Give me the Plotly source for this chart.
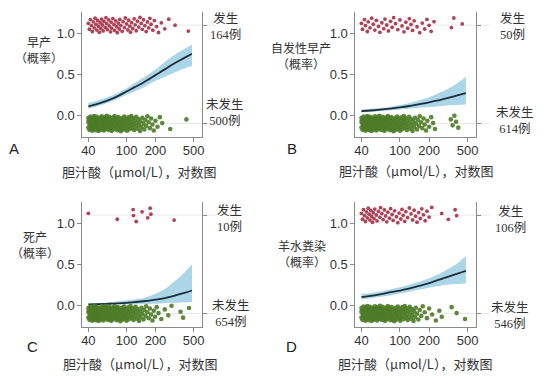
import plotly.graph_objects as go

W, H = 558, 382

# ---------------- data ----------------
CURVE_X = [40, 50, 60, 70, 80, 100, 120, 150, 200, 250, 300, 400, 480]

LINE_A = [0.11, 0.14, 0.17, 0.20, 0.23, 0.29, 0.34, 0.40, 0.49, 0.56, 0.62, 0.70, 0.75]
LOW_A = [0.08, 0.11, 0.14, 0.17, 0.20, 0.25, 0.29, 0.34, 0.42, 0.47, 0.51, 0.57, 0.60]
UP_A = [0.15, 0.18, 0.21, 0.24, 0.27, 0.33, 0.39, 0.46, 0.56, 0.65, 0.72, 0.81, 0.86]

LINE_B = [0.05, 0.058, 0.066, 0.074, 0.082, 0.097, 0.11, 0.13, 0.158, 0.183, 0.205, 0.245, 0.27]
LOW_B = [0.035, 0.042, 0.05, 0.055, 0.062, 0.072, 0.08, 0.09, 0.10, 0.11, 0.12, 0.125, 0.13]
UP_B = [0.07, 0.08, 0.09, 0.095, 0.105, 0.125, 0.145, 0.175, 0.22, 0.27, 0.31, 0.40, 0.47]

LINE_C = [0.01, 0.013, 0.016, 0.02, 0.023, 0.03, 0.038, 0.049, 0.069, 0.088, 0.11, 0.15, 0.18]
LOW_C = [0.004, 0.005, 0.006, 0.007, 0.008, 0.01, 0.012, 0.015, 0.02, 0.025, 0.03, 0.035, 0.04]
UP_C = [0.02, 0.025, 0.03, 0.04, 0.045, 0.06, 0.07, 0.09, 0.14, 0.20, 0.27, 0.40, 0.50]

LINE_D = [0.10, 0.115, 0.13, 0.145, 0.16, 0.18, 0.20, 0.23, 0.27, 0.31, 0.34, 0.39, 0.42]
LOW_D = [0.07, 0.085, 0.10, 0.11, 0.12, 0.145, 0.16, 0.185, 0.215, 0.235, 0.25, 0.26, 0.265]
UP_D = [0.14, 0.15, 0.165, 0.18, 0.195, 0.22, 0.245, 0.28, 0.33, 0.38, 0.43, 0.52, 0.60]

# bile acid values of cases with the outcome (red) / without (green)
RED_A = [40, 41, 42, 43, 44, 45, 46, 47, 48, 49, 50, 51, 52, 53, 54, 55, 56, 57, 58, 60, 61, 62,
         63, 65, 66, 68, 69, 70, 72, 74, 75, 77, 79, 80, 82, 84, 85, 87, 90, 92, 95, 97, 100, 103,
         105, 108, 110, 113, 116, 120, 123, 126, 130, 134, 138, 142, 146, 150, 155, 160, 165,
         170, 175, 180, 188, 195, 205, 215, 230, 250, 275, 320, 440]
GREEN_A = [40, 40, 40, 41, 41, 41, 42, 42, 42, 43, 43, 43, 44, 44, 44, 45, 45, 45, 46, 46, 46, 47,
           47, 47, 48, 48, 48, 49, 49, 50, 50, 50, 51, 51, 52, 52, 53, 53, 54, 54, 55, 55, 56, 56,
           57, 57, 58, 58, 59, 59, 60, 60, 61, 61, 62, 62, 63, 63, 64, 65, 65, 66, 66, 67, 68, 68,
           69, 70, 70, 71, 72, 72, 73, 74, 75, 75, 76, 77, 78, 79, 80, 80, 81, 82, 83, 84, 85, 86,
           87, 88, 89, 90, 91, 92, 93, 94, 95, 96, 98, 99, 100, 101, 102, 104, 105, 106, 108, 109,
           110, 112, 113, 115, 117, 118, 120, 122, 124, 126, 128, 130, 133, 135, 138, 140, 143,
           146, 150, 153, 157, 160, 165, 170, 175, 180, 186, 192, 200, 210, 222, 235, 285, 420]

RED_B = [40, 41, 43, 44, 46, 47, 49, 51, 53, 55, 57, 60, 62, 65, 68, 70, 73, 76, 80, 83, 86, 90,
         95, 100, 105, 110, 115, 120, 125, 130, 135, 140, 150, 160, 170, 180, 190, 200, 210, 225,
         340, 360, 440]
GREEN_B = [40, 40, 40, 41, 41, 41, 42, 42, 42, 43, 43, 43, 44, 44, 44, 45, 45, 45, 46, 46, 46, 47,
           47, 47, 48, 48, 48, 49, 49, 49, 50, 50, 50, 51, 51, 52, 52, 53, 53, 54, 54, 55, 55, 56,
           56, 57, 57, 58, 58, 59, 59, 60, 60, 61, 61, 62, 62, 63, 63, 64, 65, 65, 66, 66, 67, 68,
           68, 69, 70, 70, 71, 72, 72, 73, 74, 75, 75, 76, 77, 78, 79, 80, 80, 81, 82, 83, 84, 85,
           86, 87, 88, 89, 90, 91, 92, 93, 94, 95, 96, 98, 99, 100, 101, 102, 104, 105, 106, 108,
           109, 110, 112, 113, 115, 117, 118, 120, 122, 124, 126, 128, 130, 133, 135, 138, 140,
           143, 146, 150, 153, 157, 160, 165, 170, 175, 180, 186, 192, 200, 210, 220, 230, 335,
           350, 365, 380, 400]

RED_C = [40, 80, 117, 118, 126, 145, 166, 176, 179, 313]
GREEN_C = [40, 40, 40, 41, 41, 41, 42, 42, 42, 43, 43, 43, 44, 44, 44, 45, 45, 45, 46, 46, 46, 47,
           47, 47, 48, 48, 48, 49, 49, 49, 50, 50, 50, 51, 51, 52, 52, 53, 53, 54, 54, 55, 55, 56,
           56, 57, 57, 58, 58, 59, 59, 60, 60, 61, 61, 62, 62, 63, 63, 64, 65, 65, 66, 66, 67, 68,
           68, 69, 70, 70, 71, 72, 72, 73, 74, 75, 75, 76, 77, 78, 79, 80, 80, 81, 82, 83, 84, 85,
           86, 87, 88, 89, 90, 91, 92, 93, 94, 95, 96, 98, 99, 100, 101, 102, 104, 105, 106, 108,
           109, 110, 112, 113, 115, 117, 118, 120, 122, 124, 126, 128, 130, 133, 135, 138, 140,
           143, 146, 150, 153, 157, 160, 165, 170, 175, 180, 186, 192, 198, 206, 215, 230, 250,
           272, 294, 365, 388, 447]

RED_D = [40, 41, 42, 43, 44, 45, 46, 47, 48, 49, 50, 51, 52, 53, 54, 55, 57, 58, 60, 62, 63, 65,
         67, 69, 71, 73, 75, 78, 80, 83, 85, 88, 92, 95, 98, 102, 105, 108, 112, 115, 120, 125,
         130, 135, 140, 145, 150, 156, 162, 168, 175, 182, 190, 200, 213, 270, 316, 371, 385]
GREEN_D = [40, 40, 40, 41, 41, 41, 42, 42, 42, 43, 43, 43, 44, 44, 44, 45, 45, 45, 46, 46, 46, 47,
           47, 47, 48, 48, 48, 49, 49, 50, 50, 50, 51, 51, 52, 52, 53, 53, 54, 54, 55, 55, 56, 56,
           57, 57, 58, 58, 59, 59, 60, 60, 61, 61, 62, 62, 63, 63, 64, 65, 65, 66, 66, 67, 68, 68,
           69, 70, 70, 71, 72, 72, 73, 74, 75, 75, 76, 77, 78, 79, 80, 80, 81, 82, 83, 84, 85, 86,
           87, 88, 89, 90, 91, 92, 93, 94, 95, 96, 98, 99, 100, 101, 102, 104, 105, 106, 108, 109,
           110, 112, 113, 115, 117, 118, 120, 122, 124, 126, 128, 130, 133, 135, 138, 140, 143,
           146, 150, 155, 160, 166, 172, 180, 190, 200, 215, 235, 255, 270, 342, 385, 470]

Y_TITLES = ["早产", "自发性早产", "死产", "羊水粪染"]
EVENT_N = ["164例", "50例", "10例", "106例"]
NONEVENT_N = ["500例", "614例", "654例", "546例"]
PANEL_LETTERS = ["A", "B", "C", "D"]
X_TICKS = [40, 100, 200, 500]
Y_TICKS = [0.0, 0.5, 1.0]
Y_TICK_TEXT = ["0.0", "0.5", "1.0"]
X_TITLE = "胆汁酸（μmol/L），对数图"

# ---------------- styling / layout ----------------
RED = "#a52f45"
GREEN = "#4d7b27"
BAND = "#abd6e7"
LINE = "#1d2d3c"
AXIS = "#8a8a8a"
TXT = "#333333"
CJK = "Noto Sans CJK SC"
SANS = "Liberation Sans, Arial, sans-serif"
SERIF_CJK = "Liberation Serif, Noto Sans CJK SC"


def px(x):
    return x / W


def py(y):
    return 1 - y / H


# plot frames in pixels: (left, right, top, bottom)
FRAMES = [(82, 202, 12, 137), (357, 478, 12, 137), (82, 202, 202, 327), (357, 478, 202, 327)]
YRANGE = [-0.265, 1.26]
XRANGE = [1.540, 2.781]

fig = go.Figure()


def jitter(n, center, spread=0.19):
    # deterministic display jitter (visual offset only)
    return [center + ((((i + 1) * 0.6180339887) % 1) - 0.5) * spread for i in range(n)]


series = [
    (LINE_A, LOW_A, UP_A, RED_A, GREEN_A),
    (LINE_B, LOW_B, UP_B, RED_B, GREEN_B),
    (LINE_C, LOW_C, UP_C, RED_C, GREEN_C),
    (LINE_D, LOW_D, UP_D, RED_D, GREEN_D),
]

layout = dict(
    width=W, height=H, margin=dict(l=0, r=0, t=0, b=0),
    paper_bgcolor="white", plot_bgcolor="white", showlegend=False,
)

for k, (line, low, up, red, green) in enumerate(series):
    i = k + 1
    xa = "x" if i == 1 else f"x{i}"
    ya = "y" if i == 1 else f"y{i}"
    yr = f"y{i + 4}"
    L, R, T, B = FRAMES[k]

    fig.add_trace(go.Scatter(x=CURVE_X, y=low, xaxis=xa, yaxis=ya, mode="lines",
                             line=dict(width=0, color=BAND, shape="spline"), hoverinfo="skip"))
    fig.add_trace(go.Scatter(x=CURVE_X, y=up, xaxis=xa, yaxis=ya, mode="lines",
                             line=dict(width=0, color=BAND, shape="spline"), fill="tonexty",
                             fillcolor=BAND, hoverinfo="skip"))
    fig.add_trace(go.Scatter(x=CURVE_X, y=line, xaxis=xa, yaxis=ya, mode="lines",
                             line=dict(width=1.8, color=LINE, shape="spline")))
    fig.add_trace(go.Scatter(x=green, y=jitter(len(green), -0.1), xaxis=xa, yaxis=ya,
                             mode="markers", marker=dict(size=4.6, color=GREEN, opacity=0.9)))
    fig.add_trace(go.Scatter(x=red, y=jitter(len(red), 1.1), xaxis=xa, yaxis=ya,
                             mode="markers", marker=dict(size=3.8, color=RED, opacity=0.9)))
    fig.add_trace(go.Scatter(x=[], y=[], xaxis=xa, yaxis=yr, mode="markers"))

    common_line = dict(showline=True, linecolor=AXIS, linewidth=1, ticks="outside",
                       ticklen=4, tickcolor=AXIS, showgrid=False, zeroline=False)
    layout["xaxis" if i == 1 else f"xaxis{i}"] = dict(
        type="log", range=XRANGE, domain=[px(L), px(R)], anchor=ya,
        tickvals=X_TICKS, ticktext=[str(v) for v in X_TICKS], ticklabelstandoff=-3,
        tickfont=dict(family=SANS, size=13, color=TXT), **common_line)
    layout["yaxis" if i == 1 else f"yaxis{i}"] = dict(
        range=YRANGE, domain=[py(B), py(T)], anchor=xa,
        tickvals=Y_TICKS, ticktext=Y_TICK_TEXT,
        tickfont=dict(family=SANS, size=13, color=TXT), **common_line)
    layout[f"yaxis{i + 4}"] = dict(
        range=YRANGE, overlaying=ya, side="right", anchor=xa,
        tickvals=[1.1, -0.1], showticklabels=False, **common_line)

    for yv in (1.1, -0.1):
        fig.add_shape(type="line", xref=f"{xa} domain", yref=ya, x0=0, x1=1.12, y0=yv, y1=yv,
                      line=dict(color="#e9e9e9", width=1), layer="below")

fig.update_layout(**layout)


def ann(text, x, y, size=13, family=CJK, color=TXT):
    fig.add_annotation(text=text, x=px(x), y=py(y), xref="paper", yref="paper",
                       showarrow=False, xanchor="center", yanchor="middle",
                       font=dict(family=family, size=size, color=color))


# y-axis titles (two lines in one text)
YT_POS = [(38, 50), (302, 56), (34, 244), (303, 253)]
for k in range(4):
    ann(Y_TITLES[k] + "<br>（概率）", *YT_POS[k], size=12)

# panel letters
LETTER_POS = [(13, 148), (293, 148), (32, 346), (293, 346)]
for k in range(4):
    ann(PANEL_LETTERS[k], *LETTER_POS[k], size=15, family=SANS, color="#222")

# x titles
XT_POS = [(139, 171), (418, 170), (140, 363), (417, 363)]
for k in range(4):
    ann(X_TITLE, *XT_POS[k], size=13)

# right labels (two lines in one text each)
RL_POS = [
    ((226, 26), (226, 113)),
    ((515, 27), (518, 121)),
    ((230, 218), (232, 313)),
    ((513, 219.5), (513, 315)),
]
for k in range(4):
    a, b = RL_POS[k]
    ann("发生<br>" + EVENT_N[k], *a, size=12.5, family=SERIF_CJK)
    ann("未发生<br>" + NONEVENT_N[k], *b, size=12.5, family=SERIF_CJK)

fig.write_html("out.html", config={"displayModeBar": False},
               post_script="document.body.style.margin='0';")
